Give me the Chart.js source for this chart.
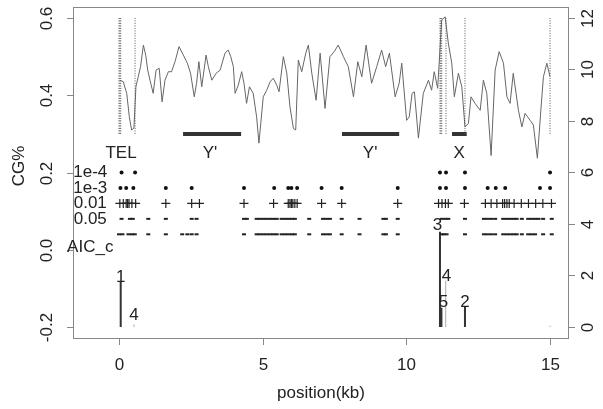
<!DOCTYPE html>
<html>
<head>
<meta charset="utf-8">
<script src="https://cdn.jsdelivr.net/npm/chart.js@4/dist/chart.umd.min.js"></script>
<style>
  html, body { margin: 0; padding: 0; background: #fff; }
  #wrap { width: 603px; height: 409px; position: relative; }
</style>
</head>
<body>
<div id="wrap"><canvas id="cgChart"></canvas></div>
<script>
// CG% along the position (left axis)
const cgPos = [0.03, 0.15, 0.27, 0.36, 0.44, 0.52, 0.59, 0.67, 0.75, 0.85, 0.93, 1.0, 1.08, 1.19, 1.29, 1.4, 1.5, 1.6, 1.72, 1.83,
  1.95, 2.09, 2.24, 2.38, 2.49, 2.62, 2.7, 2.78, 2.88, 3.03, 3.11, 3.23, 3.38, 3.52, 3.69, 3.8, 3.89, 3.98, 4.04, 4.15,
  4.27, 4.35, 4.44, 4.54, 4.67, 4.79, 4.87, 5.02, 5.14, 5.26, 5.37, 5.49, 5.57, 5.72, 5.84, 5.95, 6.07, 6.15, 6.24, 6.36,
  6.5, 6.59, 6.71, 6.86, 7.0, 7.17, 7.34, 7.49, 7.63, 7.81, 7.98, 8.16, 8.31, 8.45, 8.6, 8.79, 8.97, 9.14, 9.28, 9.41,
  9.61, 9.75, 9.84, 10.01, 10.1, 10.2, 10.28, 10.42, 10.59, 10.77, 10.88, 10.97, 11.09, 11.23, 11.35, 11.46, 11.58, 11.67, 11.81, 11.93,
  12.04, 12.16, 12.25, 12.39, 12.57, 12.68, 12.8, 12.95, 13.09, 13.23, 13.38, 13.5, 13.61, 13.72, 13.9, 14.02, 14.13, 14.31, 14.42, 14.56,
  14.68, 14.77, 14.89, 15.0];
const cgVal = [0.439, 0.435, 0.405, 0.344, 0.31, 0.315, 0.422, 0.448, 0.474, 0.53, 0.504, 0.465, 0.439, 0.405, 0.465, 0.47, 0.383, 0.439, 0.461, 0.461,
  0.487, 0.526, 0.504, 0.483, 0.457, 0.396, 0.431, 0.487, 0.422, 0.504, 0.474, 0.439, 0.457, 0.465, 0.509, 0.517, 0.5, 0.474, 0.405, 0.426,
  0.461, 0.431, 0.379, 0.422, 0.405, 0.344, 0.276, 0.396, 0.413, 0.435, 0.444, 0.426, 0.409, 0.5, 0.457, 0.37, 0.314, 0.31, 0.491, 0.461,
  0.509, 0.53, 0.457, 0.387, 0.509, 0.366, 0.5, 0.513, 0.53, 0.5, 0.474, 0.396, 0.487, 0.448, 0.53, 0.431, 0.474, 0.517, 0.474, 0.509,
  0.396, 0.431, 0.483, 0.335, 0.344, 0.405, 0.409, 0.289, 0.405, 0.439, 0.413, 0.461, 0.418, 0.595, 0.603, 0.535, 0.483, 0.396, 0.457, 0.422,
  0.318, 0.327, 0.396, 0.379, 0.361, 0.439, 0.405, 0.244, 0.465, 0.513, 0.483, 0.396, 0.379, 0.457, 0.361, 0.318, 0.353, 0.335, 0.323, 0.237,
  0.361, 0.448, 0.483, 0.448];

// dotted vertical markers (left axis, 0.3 .. 0.6)
const markPos = [0.0, 0.03, 0.06, 0.56, 11.17, 11.2, 11.23, 11.38, 12.04, 15.0];
const markLow = 0.3, markHigh = 0.6;

// repeat element bars + labels
const barStart = [2.23, 7.76, 11.59];
const barEnd = [4.25, 9.75, 12.1];
const barLevel = 0.3;
const regionNames = ["TEL", "Y'", "Y'", "X"];
const regionPos = [0.07, 3.17, 8.74, 11.84];
const regionLevel = 0.25;

// significance rows (right axis)
const rowNames = ["1e-4", "1e-3", "0.01", "0.05", "AIC_c"];
const rowLevels = [6, 5.4, 4.8, 4.2, 3.1];
const row1e4 = [0.09, 0.56, 11.17, 11.38, 12.04, 15.0];
const row1e3 = [0.05, 0.25, 0.5, 1.63, 2.53, 4.35, 5.4, 5.89, 6.0, 6.2, 7.05, 7.75, 9.7, 11.17, 11.38, 12.04, 12.83, 13.11, 13.44, 14.65, 15.0];
const row001 = [0.03, 0.15, 0.25, 0.3, 0.35, 0.45, 0.58, 1.63, 2.53, 2.8, 4.35, 5.38, 5.89, 5.95, 6.0, 6.05, 6.12, 6.2, 7.05, 7.75, 9.7,
  11.12, 11.24, 11.36, 11.46, 12.02, 12.75, 12.95, 13.15, 13.35, 13.42, 13.5, 13.58, 13.75, 14.0, 14.25, 14.5, 14.75, 15.05];
const row005 = [0.09, 0.38, 0.48, 1.02, 1.63, 2.53, 2.7, 4.35, 4.45, 4.79, 4.9, 5.02, 5.14, 5.26, 5.38, 5.49, 5.66, 5.78, 5.9, 6.02, 6.12,
  6.62, 7.1, 7.22, 7.34, 7.75, 8.37, 9.2, 9.29, 9.7, 11.23, 11.35, 11.46, 12.04, 12.7, 12.82, 12.95, 13.09, 13.37, 13.5, 13.62, 13.74,
  13.84, 14.02, 14.24, 14.36, 14.48, 14.6, 14.76, 15.06];
const rowExtra = [0.0, 0.12, 0.33, 0.45, 0.55, 1.02, 1.63, 2.2, 2.38, 2.53, 2.7, 4.35, 4.79, 4.9, 5.02, 5.14, 5.26, 5.38, 5.49, 5.66, 5.78,
  5.9, 6.02, 6.12, 6.62, 7.1, 7.22, 7.34, 7.75, 8.37, 9.2, 9.29, 9.7, 11.23, 11.3, 11.4, 12.04, 12.7, 12.82, 12.95, 13.09, 13.37, 13.5,
  13.62, 13.74, 13.84, 14.02, 14.24, 14.36, 14.48, 14.76, 15.06];
const rowExtraLevel = 3.6;

// AIC_c breakpoints (right axis)
const aicPos = [0.06, 11.17, 11.22, 12.04];
const aicHeight = [1.75, 3.7, 0.75, 0.78];
const aicLightPos = [0.52, 11.37, 15.0];
const aicLightHeight = [0.1, 1.8, 0.05];
const aicLabels = ["1", "4", "3", "4", "5", "2"];
const aicLabelX = [0.06, 0.52, 11.08, 11.4, 11.29, 12.04];
const aicLabelY = [1.94, 0.47, 3.95, 1.95, 0.97, 0.97];

// axes
const xTicks = [0, 5, 10, 15];
const yTicks = [-0.2, 0.0, 0.2, 0.4, 0.6];
const yTickLabels = ["-0.2", "0.0", "0.2", "0.4", "0.6"];
const y2Ticks = [0, 2, 4, 6, 8, 10, 12];

const FONT = "'Liberation Sans', Arial, sans-serif";

function verticals(xs, lows, highs) {
  const out = [];
  xs.forEach((v, i) => {
    const lo = Array.isArray(lows) ? lows[i] : lows;
    const hi = Array.isArray(highs) ? highs[i] : highs;
    out.push({ x: v, y: lo }, { x: v, y: hi }, { x: v, y: null });
  });
  return out;
}

function horizontals(starts, ends, level) {
  const out = [];
  starts.forEach((s, i) => out.push({ x: s, y: level }, { x: ends[i], y: level }, { x: ends[i], y: null }));
  return out;
}

const flat = (xs, level) => xs.map(v => ({ x: v, y: level }));

const decor = {
  id: "decor",
  afterDatasetsDraw(chart) {
    const { ctx, chartArea: a, scales: { x, y, y2 } } = chart;
    ctx.save();
    ctx.strokeStyle = "#888";
    ctx.lineWidth = 1;
    ctx.strokeRect(a.left + 0.5, a.top + 0.5, a.right - a.left - 1, a.bottom - a.top - 1);

    ctx.fillStyle = "#222";
    ctx.font = "17px " + FONT;
    ctx.textAlign = "center";
    ctx.textBaseline = "middle";

    // x ticks
    xTicks.forEach(t => {
      const px = Math.round(x.getPixelForValue(t)) + 0.5;
      ctx.beginPath(); ctx.moveTo(px, a.bottom); ctx.lineTo(px, a.bottom + 6); ctx.stroke();
      ctx.fillText(String(t), px, 365);
    });
    ctx.fillText("position(kb)", (a.left + a.right) / 2, 393);

    // left ticks (rotated labels)
    yTicks.forEach((t, i) => {
      const py = Math.round(y.getPixelForValue(t)) + 0.5;
      ctx.beginPath(); ctx.moveTo(a.left, py); ctx.lineTo(a.left - 6, py); ctx.stroke();
      ctx.save(); ctx.translate(47, py); ctx.rotate(-Math.PI / 2);
      ctx.fillText(yTickLabels[i], 0, 0); ctx.restore();
    });
    ctx.save(); ctx.translate(19, 166); ctx.rotate(-Math.PI / 2);
    ctx.fillText("CG%", 0, 0); ctx.restore();

    // right ticks
    y2Ticks.forEach(t => {
      const py = Math.round(y2.getPixelForValue(t)) + 0.5;
      ctx.beginPath(); ctx.moveTo(a.right, py); ctx.lineTo(a.right + 6, py); ctx.stroke();
      ctx.save(); ctx.translate(588, py); ctx.rotate(-Math.PI / 2);
      ctx.fillText(String(t), 0, 0); ctx.restore();
    });

    // region names
    regionNames.forEach((n, i) => ctx.fillText(n, x.getPixelForValue(regionPos[i]), y.getPixelForValue(regionLevel)));

    // row names
    rowNames.forEach((n, i) => ctx.fillText(n, x.getPixelForValue(-1), y2.getPixelForValue(rowLevels[i])));

    // AIC labels
    aicLabels.forEach((n, i) => ctx.fillText(n, x.getPixelForValue(aicLabelX[i]), y2.getPixelForValue(aicLabelY[i])));
    ctx.restore();
  }
};

new Chart(document.getElementById("cgChart"), {
  type: "scatter",
  data: {
    datasets: [
      {
        data: verticals(markPos, markLow, markHigh), yAxisID: "y", showLine: true, spanGaps: false,
        borderColor: "#555", borderWidth: 1, borderDash: [1, 1.5], pointRadius: 0
      },
      {
        data: cgPos.map((p, i) => ({ x: p, y: cgVal[i] })), yAxisID: "y", showLine: true,
        borderColor: "#666", borderWidth: 1, pointRadius: 0
      },
      {
        data: horizontals(barStart, barEnd, barLevel), yAxisID: "y", showLine: true, spanGaps: false,
        borderColor: "#333", borderWidth: 4, pointRadius: 0, borderCapStyle: "butt"
      },
      { data: flat(row1e4, rowLevels[0]), yAxisID: "y2", pointStyle: "circle", pointRadius: 2, backgroundColor: "#111", borderColor: "#111", borderWidth: 0 },
      { data: flat(row1e3, rowLevels[1]), yAxisID: "y2", pointStyle: "circle", pointRadius: 2, backgroundColor: "#111", borderColor: "#111", borderWidth: 0 },
      { data: flat(row001, rowLevels[2]), yAxisID: "y2", pointStyle: "cross", pointRadius: 4.5, borderColor: "#222", borderWidth: 1.2 },
      { data: flat(row005, rowLevels[3]), yAxisID: "y2", pointStyle: "line", pointRadius: 2, borderColor: "#222", borderWidth: 2 },
      { data: flat(rowExtra, rowExtraLevel), yAxisID: "y2", pointStyle: "line", pointRadius: 2, borderColor: "#222", borderWidth: 2 },
      {
        data: verticals(aicPos, 0, aicHeight), yAxisID: "y2", showLine: true, spanGaps: false,
        borderColor: "#333", borderWidth: 2, pointRadius: 0
      },
      {
        data: verticals(aicLightPos, 0, aicLightHeight), yAxisID: "y2", showLine: true, spanGaps: false,
        borderColor: "#aaa", borderWidth: 1, pointRadius: 0
      }
    ]
  },
  options: {
    responsive: true,
    maintainAspectRatio: false,
    animation: false,
    layout: { padding: { top: 7, left: 0, right: 0, bottom: 0 } },
    plugins: { legend: { display: false }, tooltip: { enabled: false } },
    scales: {
      x: {
        type: "linear", min: -1.6, max: 15.66,
        ticks: { display: false }, grid: { display: false }, border: { display: false },
        afterFit: s => { s.height = 70; }
      },
      y: {
        position: "left", min: -0.231, max: 0.6285,
        ticks: { display: false }, grid: { display: false }, border: { display: false },
        afterFit: s => { s.width = 73; }
      },
      y2: {
        position: "right", min: -0.466, max: 12.427,
        ticks: { display: false }, grid: { display: false }, border: { display: false },
        afterFit: s => { s.width = 34; }
      }
    }
  },
  plugins: [decor]
});
</script>
</body>
</html>
